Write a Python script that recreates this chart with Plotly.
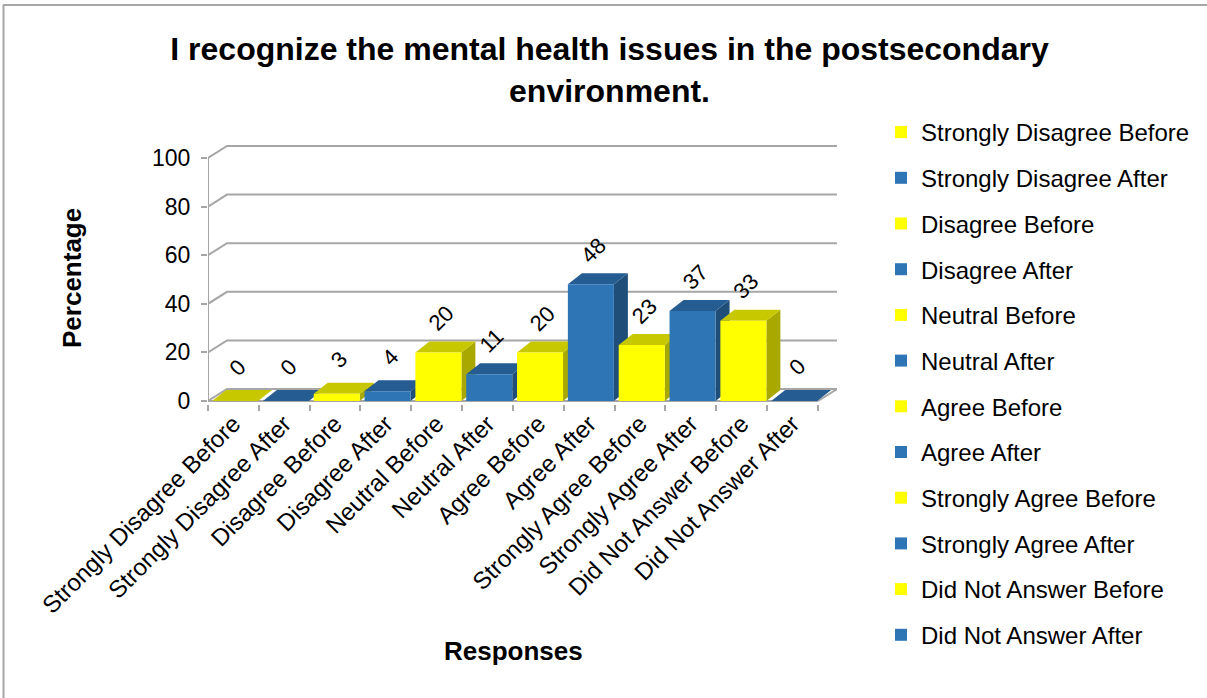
import plotly.graph_objects as go

# ---------------- data ----------------
categories = ["Strongly Disagree Before", "Strongly Disagree After",
              "Disagree Before", "Disagree After",
              "Neutral Before", "Neutral After",
              "Agree Before", "Agree After",
              "Strongly Agree Before", "Strongly Agree After",
              "Did Not Answer Before", "Did Not Answer After"]
values = [0, 0, 3, 4, 20, 11, 20, 48, 23, 37, 33, 0]
phase = ["Before", "After"] * 6
y_ticks = [0, 20, 40, 60, 80, 100]

# ---------------- style ----------------
W, H = 1207, 698
ML, MR, MT, MB = 208, 370, 144, 294
PW, PH = W - ML - MR, H - MT - MB
KX = 50.83           # px per category
KY = 2.43            # px per percent
Y0PX = 401           # pixel row of value 0
XMIN = -0.5
XMAX = XMIN + PW / KX
YMAX = (Y0PX - MT) / KY
YMIN = -(MT + PH - Y0PX) / KY

DXW, DYW = 19 / KX, 12 / KY   # wall depth
DXB, DYB = 14 / KX, 11 / KY   # bar depth
BAR_OFF, BAR_W = -0.42, 0.905

FONT = "Arial, Liberation Sans, sans-serif"
GRID = "#a6a6a6"
COLORS = {
    "Before": dict(front="#ffff00", top="#c8c800", side="#a8a800"),
    "After": dict(front="#2e75b6", top="#255d93", side="#1f4e79"),
}


def px2paper_x(px):
    return (px - ML) / PW


def px2paper_y(py):
    return (MT + PH - py) / PH


fig = go.Figure()
n = len(categories)

# back wall gridlines (from tick values)
for t in y_ticks:
    fig.add_trace(go.Scatter(
        x=[XMIN, XMIN + DXW, n - 0.5 + DXW],
        y=[t, t + DYW, t + DYW], mode="lines",
        line=dict(color=GRID, width=2), hoverinfo="skip", showlegend=False))
# floor right edge
fig.add_trace(go.Scatter(
    x=[n - 0.5, n - 0.5 + DXW], y=[0, DYW], mode="lines",
    line=dict(color=GRID, width=2), hoverinfo="skip", showlegend=False))

# front axis lines
fig.add_trace(go.Scatter(x=[XMIN, n - 0.5], y=[0, 0], mode="lines",
                         line=dict(color=GRID, width=2), hoverinfo="skip", showlegend=False))
fig.add_trace(go.Scatter(x=[XMIN, XMIN], y=[0, y_ticks[-1]], mode="lines",
                         line=dict(color=GRID, width=2), hoverinfo="skip", showlegend=False))

# 3D bars: side, top, front faces
for i, (v, ph) in enumerate(zip(values, phase)):
    x0 = i + BAR_OFF
    x1 = x0 + BAR_W
    c = COLORS[ph]
    fig.add_trace(go.Scatter(
        x=[x1, x1 + DXB, x1 + DXB, x1, x1], y=[0, DYB, v + DYB, v, 0],
        fill="toself", fillcolor=c["side"], mode="lines",
        line=dict(width=0, color=c["side"]), hoverinfo="skip", showlegend=False))
    fig.add_trace(go.Scatter(
        x=[x0, x1, x1 + DXB, x0 + DXB, x0], y=[v, v, v + DYB, v + DYB, v],
        fill="toself", fillcolor=c["top"], mode="lines",
        line=dict(width=0, color=c["top"]), hoverinfo="skip", showlegend=False))
    if v > 0:
        fig.add_trace(go.Scatter(
            x=[x0, x1, x1, x0, x0], y=[0, 0, v, v, 0],
            fill="toself", fillcolor=c["front"], mode="lines",
            line=dict(width=0, color=c["front"]), name=categories[i],
            hoverinfo="x+y", showlegend=False))

# legend entries
for cat, ph in zip(categories, phase):
    fig.add_trace(go.Scatter(
        x=[None], y=[None], mode="markers", name=cat,
        marker=dict(symbol="square", size=12, color=COLORS[ph]["front"]),
        legendgroup=cat, showlegend=True))

# data labels
annotations = []
for i, v in enumerate(values):
    annotations.append(dict(
        x=i, y=v, xref="x", yref="y", text=str(v), showarrow=False,
        textangle=-45, xshift=4, yshift=34,
        font=dict(family=FONT, size=22, color="#000000")))

annotations.append(dict(
    x=px2paper_x(72), y=px2paper_y(278), xref="paper", yref="paper",
    xanchor="center", yanchor="middle",
    text="<b>Percentage</b>", textangle=-90, showarrow=False,
    font=dict(family=FONT, size=26, color="#000000")))
annotations.append(dict(
    x=px2paper_x(513), y=px2paper_y(651), xref="paper", yref="paper",
    xanchor="center", yanchor="middle",
    text="<b>Responses</b>", showarrow=False,
    font=dict(family=FONT, size=26, color="#000000")))

shapes = [
    dict(type="line", xref="paper", yref="paper",
         x0=px2paper_x(3.5), x1=px2paper_x(3.5), y0=px2paper_y(5), y1=px2paper_y(H + 2),
         line=dict(color="#a6a6a6", width=2)),
    dict(type="line", xref="paper", yref="paper",
         x0=px2paper_x(3), x1=px2paper_x(W + 2), y0=px2paper_y(5), y1=px2paper_y(5),
         line=dict(color="#a6a6a6", width=2)),
]

fig.update_layout(
    width=W, height=H,
    margin=dict(l=ML, r=MR, t=MT, b=MB, autoexpand=False),
    paper_bgcolor="white", plot_bgcolor="white",
    title=dict(
        text="<b>I recognize the mental health issues in the postsecondary<br>environment.</b>",
        x=0.505, xanchor="center", xref="container",
        y=1 - 60 / H, yanchor="middle", yref="container",
        font=dict(family=FONT, size=32, color="#000000")),
    xaxis=dict(
        range=[XMIN, XMAX], tickmode="array",
        tickvals=list(range(n)), ticktext=categories,
        tickangle=-45, ticks="", showgrid=False, zeroline=False, showline=False,
        tickfont=dict(family=FONT, size=24, color="#000000"),
        minor=dict(tickmode="linear", tick0=-0.5, dtick=1, ticks="outside",
                   ticklen=6, tickwidth=2, tickcolor=GRID, showgrid=False),
        fixedrange=True),
    yaxis=dict(
        range=[YMIN, YMAX], tickmode="array", tickvals=y_ticks,
        ticks="outside", ticklen=6, tickwidth=2, tickcolor=GRID,
        ticklabelstandoff=6,
        showgrid=False, zeroline=False, showline=False,
        tickfont=dict(family=FONT, size=23, color="#000000"),
        fixedrange=True),
    legend=dict(
        x=px2paper_x(881), y=px2paper_y(110), xanchor="left", yanchor="top",
        xref="paper", yref="paper", maxheight=1,
        font=dict(family=FONT, size=24, color="#000000"),
        traceorder="grouped", tracegroupgap=11.5, itemwidth=30,
        bgcolor="rgba(0,0,0,0)"),
    annotations=annotations,
    shapes=shapes,
    showlegend=True,
)

fig.write_html("out.html")
